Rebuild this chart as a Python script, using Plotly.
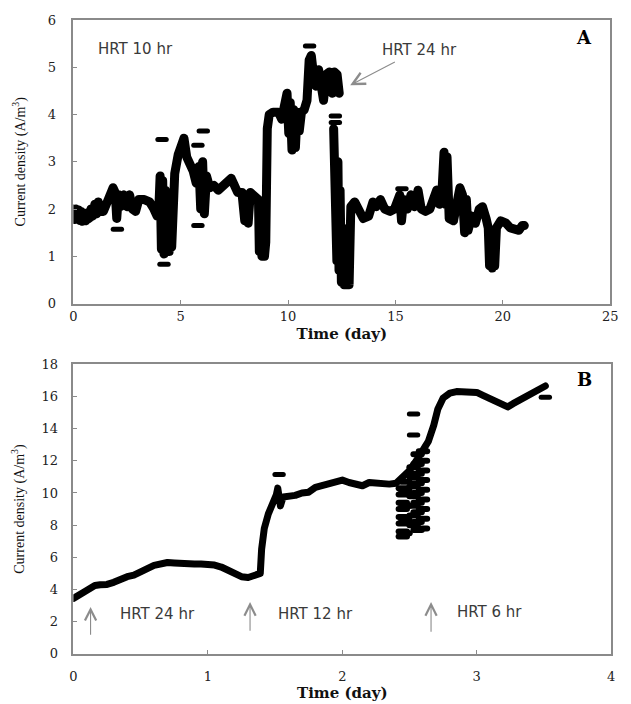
import plotly.graph_objects as go

# ---- Panel A: current density at HRT 10 hr then 24 hr ----
DAY_A = [0.00, 0.06, 0.12, 0.18, 0.24, 0.30, 0.36, 0.42, 0.50, 0.58, 0.66, 0.74, 0.82, 0.90,
         1.00, 1.08, 1.16, 1.25, 1.40, 1.55, 1.70,
         1.85, 1.95, 2.02, 2.10, 2.20, 2.35, 2.50, 2.62, 2.75, 2.90, 3.05, 3.30, 3.55, 3.75, 3.90,
         3.98, 4.04, 4.10, 4.16, 4.22, 4.28, 4.34, 4.40, 4.46, 4.52, 4.58, 4.64, 4.72, 4.88, 5.02,
         5.15, 5.28, 5.42, 5.58, 5.72, 5.85, 5.93, 6.02, 6.10, 6.20, 6.35, 6.55, 6.75, 6.95, 7.15,
         7.35, 7.50, 7.65, 7.85, 7.98, 8.06, 8.14, 8.24, 8.40, 8.55, 8.62, 8.66, 8.72, 8.78, 8.84,
         8.90, 8.96, 9.03, 9.12, 9.30, 9.55, 9.70, 9.85, 9.95, 10.03, 10.10, 10.18, 10.26, 10.34,
         10.42, 10.52, 10.62, 10.75, 10.88, 10.98, 11.08, 11.18, 11.30, 11.42, 11.52, 11.65, 11.78,
         11.92, 12.05, 12.15, 12.28, 12.38,
         None,
         12.12, 12.17, 12.22, 12.27, 12.32, 12.37, 12.42, 12.48, 12.54, 12.60, 12.66, 12.72, 12.78,
         12.84, 12.92, 13.10, 13.30, 13.50, 13.75, 13.95, 14.10, 14.30, 14.50, 14.75, 14.95, 15.10,
         15.20, 15.28, 15.38, 15.55, 15.72, 15.88, 16.05, 16.20, 16.40, 16.60, 16.78, 16.92, 17.05,
         17.18, 17.26, 17.32, 17.40, 17.50, 17.70, 17.85, 18.00, 18.12, 18.22, 18.30, 18.38, 18.55,
         18.72, 18.90, 19.05, 19.22, 19.32, 19.38, 19.44, 19.50, 19.56, 19.62, 19.70, 19.90, 20.15,
         20.35, 20.55, 20.75, 20.90, 21.00]
CUR_A = [2.00, 1.78, 2.00, 1.80, 1.98, 1.76, 1.95, 1.74, 1.90, 1.75, 1.92, 1.80, 2.00, 1.85,
         2.10, 1.90, 2.15, 1.95, 1.95, 2.10, 2.30,
         2.45, 2.35, 1.80, 2.30, 2.05, 2.30, 2.05, 2.30, 2.00, 1.95, 2.20, 2.20, 2.15, 2.00, 1.85,
         2.00, 2.70, 1.15, 2.60, 1.05, 2.40, 1.10, 2.20, 1.10, 2.00, 1.20, 2.30, 2.75, 3.15, 3.45,
         3.50, 3.10, 3.00, 2.80, 2.55, 2.90, 2.00, 3.00, 1.90, 2.70, 2.45, 2.50, 2.40, 2.50, 2.60,
         2.65, 2.50, 2.35, 2.35, 1.75, 2.30, 1.70, 2.35, 2.30, 2.25, 2.20, 1.10, 2.00, 1.00, 1.70,
         1.00, 1.30, 3.70, 4.00, 4.05, 4.05, 3.90, 4.40, 4.45, 3.60, 4.25, 3.25, 4.10, 3.30,
         4.05, 3.65, 4.05, 4.10, 4.30, 5.15, 5.25, 4.85, 4.60, 4.95, 4.50, 4.30, 4.85,
         4.90, 4.45, 4.90, 4.85, 4.45,
         None,
         3.70, 1.20, 3.50, 0.90, 3.00, 0.70, 2.40, 0.45, 1.60, 0.40, 1.30, 0.40, 1.10,
         0.40, 2.05, 2.15, 1.95, 1.80, 1.85, 2.15, 2.05, 2.20, 2.00, 1.95, 2.00, 2.20,
         2.30, 1.75, 2.20, 2.00, 2.30, 2.05, 2.40, 2.00, 1.95, 2.00, 2.20, 2.40, 2.10,
         2.50, 3.20, 2.10, 3.10, 1.80, 1.75, 2.25, 2.45, 2.30, 1.50, 2.20, 1.55, 1.85,
         1.70, 2.00, 2.05, 1.80, 1.60, 0.80, 1.50, 0.75, 1.40, 0.80, 1.60, 1.75, 1.70,
         1.60, 1.55, 1.55, 1.65, 1.65]
SPIKE_DAY_A = [2.05, 4.13, 4.22, 6.05, 5.80, 5.80, 11.00, 12.20, 12.20, 15.30]
SPIKE_CUR_A = [1.57, 3.47, 0.83, 3.65, 3.35, 1.65, 5.45, 3.97, 3.83, 2.43]

# ---- Panel B: current density at HRT 24, 12 and 6 hr ----
DAY_B = [0.00, 0.04, 0.08, 0.12, 0.16, 0.20, 0.25, 0.30, 0.35, 0.40, 0.45, 0.50, 0.55, 0.60, 0.65,
         0.70, 0.75, 0.80, 0.85, 0.90, 0.95, 1.00, 1.05, 1.10, 1.15, 1.20, 1.25, 1.30, 1.35, 1.39,
         1.40, 1.42, 1.45, 1.48, 1.51, 1.52, 1.54, 1.56, 1.60, 1.65, 1.70, 1.75, 1.80, 1.85, 1.90,
         1.95, 2.00, 2.05, 2.10, 2.15, 2.20, 2.25, 2.30, 2.35, 2.40, 2.44, 2.50, 2.55, 2.60, 2.64,
         2.68, 2.71, 2.75, 2.80, 2.85, 2.90, 2.95, 3.00, 3.05, 3.10, 3.15, 3.20, 3.23, 3.27, 3.32,
         3.37, 3.42, 3.47, 3.51]
CUR_B = [3.45, 3.60, 3.85, 4.05, 4.25, 4.30, 4.32, 4.45, 4.65, 4.80, 4.90, 5.05, 5.30, 5.50, 5.62,
         5.68, 5.65, 5.60, 5.55, 5.58, 5.58, 5.58, 5.52, 5.40, 5.20, 4.95, 4.80, 4.75, 4.85, 5.00,
         6.50, 7.80, 8.70, 9.20, 9.90, 10.30, 9.20, 9.75, 9.75, 9.85, 10.00, 10.05, 10.35, 10.45, 10.60,
         10.75, 10.80, 10.65, 10.50, 10.45, 10.65, 10.60, 10.65, 10.55, 10.60, 10.95, 11.40, 12.00, 12.60, 13.20,
         14.20, 15.20, 15.90, 16.20, 16.30, 16.28, 16.30, 16.25, 16.05, 15.85, 15.60, 15.40, 15.35, 15.55, 15.80,
         16.00, 16.25, 16.50, 16.65]
# scattered readings while switching to HRT 6 hr
BAND_DAY_B = [2.45] * 8 + [2.47] * 5 + [2.53] * 7 + [2.56] * 9 + [2.60] * 9
BAND_CUR_B = [7.30, 7.60, 8.10, 8.50, 9.00, 9.40, 9.90, 10.30,
              7.50, 8.30, 9.20, 10.10, 10.70,
              8.00, 8.60, 9.20, 9.80, 10.40, 11.00, 11.60,
              7.70, 8.20, 8.80, 9.40, 10.00, 10.60, 11.20, 11.80, 12.40,
              7.80, 8.40, 9.00, 9.60, 10.20, 10.80, 11.40, 12.00, 12.60]
SPIKE_DAY_B = [1.53, 2.53, 2.53, 3.51]
SPIKE_CUR_B = [11.15, 14.90, 13.60, 15.95]

TICKS_A_X = [0, 5, 10, 15, 20, 25]
TICKS_A_Y = [0, 1, 2, 3, 4, 5, 6]
TICKS_B_X = [0, 1, 2, 3, 4]
TICKS_B_Y = [0, 2, 4, 6, 8, 10, 12, 14, 16, 18]

W, H = 631, 704
SERIF = "DejaVu Serif"
SANS = "DejaVu Sans"
FRAME = "#8a8a8a"
ARROW = "#8c8c8c"


def px(x):
    return x / W


def py(y):
    return 1 - y / H


dot = dict(symbol="line-ew", size=6, line=dict(width=5, color="black"), color="black")

fig = go.Figure()
fig.add_trace(go.Scatter(x=DAY_A, y=CUR_A, mode="lines", line=dict(color="black", width=9),
                         xaxis="x", yaxis="y", connectgaps=False))
fig.add_trace(go.Scatter(x=SPIKE_DAY_A, y=SPIKE_CUR_A, mode="markers", marker=dot,
                         xaxis="x", yaxis="y"))
fig.add_trace(go.Scatter(x=DAY_B, y=CUR_B, mode="lines", line=dict(color="black", width=7),
                         xaxis="x2", yaxis="y2"))
fig.add_trace(go.Scatter(x=BAND_DAY_B, y=BAND_CUR_B, mode="markers",
                         marker=dict(symbol="line-ew", size=6, line=dict(width=6, color="black")),
                         xaxis="x2", yaxis="y2"))
fig.add_trace(go.Scatter(x=SPIKE_DAY_B, y=SPIKE_CUR_B, mode="markers", marker=dot,
                         xaxis="x2", yaxis="y2"))

tickfont = dict(family=SERIF, size=13, color="#222")
axis_common = dict(showline=True, linecolor=FRAME, linewidth=1.5, mirror=True, ticks="inside",
                   ticklen=4, tickcolor=FRAME, tickwidth=1, showgrid=False, zeroline=False,
                   tickfont=tickfont, fixedrange=True)
xfont = dict(family=SERIF, size=15, color="#111")
yfont = dict(family="Liberation Serif", size=14, color="#111")
ylabel = "Current density (A/m<sup>3</sup>)"

fig.update_layout(
    width=W, height=H, margin=dict(l=0, r=0, t=0, b=0),
    paper_bgcolor="white", plot_bgcolor="white", showlegend=False,
    xaxis=dict(domain=[px(70.7), px(618)], range=[0, 25], tickvals=TICKS_A_X, anchor="y",
               title=dict(text="<b>Time (day)</b>", font=xfont, standoff=6),
               ticklabelstandoff=0, **axis_common),
    yaxis=dict(domain=[py(303), py(13.3)], range=[0, 6], tickvals=TICKS_A_Y, anchor="x",
               title=dict(text=ylabel, font=yfont, standoff=19),
               ticklabelstandoff=13, **axis_common),
    xaxis2=dict(domain=[px(70.7), px(619)], range=[0, 4], tickvals=TICKS_B_X, anchor="y2",
                title=dict(text="<b>Time (day)</b>", font=xfont, standoff=3),
                ticklabelstandoff=10, **axis_common),
    yaxis2=dict(domain=[py(661), py(365)], range=[0, 18], tickvals=TICKS_B_Y, anchor="x2",
                title=dict(text=ylabel, font=yfont, standoff=14),
                ticklabelstandoff=11, **axis_common),
)

label_font = dict(family=SANS, size=15, color="#3a3a3a")
panel_font = dict(family=SERIF, size=18, color="black")
notes = [
    dict(text="<b>A</b>", x=px(591), y=py(31), font=panel_font),
    dict(text="<b>B</b>", x=px(592), y=py(381), font=panel_font),
    dict(text="HRT 10 hr", x=px(134), y=py(43), font=label_font),
    dict(text="HRT 24 hr", x=px(424), y=py(44), font=label_font),
    dict(text="HRT 24 hr", x=px(156), y=py(620), font=label_font),
    dict(text="HRT 12 hr", x=px(317.5), y=py(620), font=label_font),
    dict(text="HRT 6 hr", x=px(495), y=py(618), font=label_font),
]
for n in notes:
    fig.add_annotation(xref="paper", yref="paper", showarrow=False, xanchor="center",
                       yanchor="middle", **n)

# arrows: (tip x, tip y, tail x, tail y, axis suffix, head size)
arrows = [
    (12.89, 4.62, 15.04, 5.13, "", 2.2),
    (0.128, 2.92, 0.128, 1.09, "2", 2.0),
    (1.314, 3.22, 1.314, 1.34, "2", 2.0),
    (2.66, 3.22, 2.66, 1.28, "2", 2.0),
]
for tx, ty, ax, ay, s, hs in arrows:
    fig.add_annotation(x=tx, y=ty, ax=ax, ay=ay, xref="x" + s, yref="y" + s,
                       axref="x" + s, ayref="y" + s, text="", showarrow=True,
                       arrowhead=5, arrowsize=hs, arrowwidth=1.1, arrowcolor=ARROW)

post = """
function roundStrokes(){
  var gd = document.getElementById('{plot_id}');
  gd.querySelectorAll('.scatterlayer .js-line').forEach(function(p){
    p.style.strokeLinejoin = 'round'; p.style.strokeLinecap = 'round';
  });
  gd.querySelectorAll('.scatterlayer .point').forEach(function(p){
    p.style.strokeLinecap = 'round';
  });
}
roundStrokes();
document.getElementById('{plot_id}').on('plotly_afterplot', roundStrokes);
"""

fig.write_html("out.html", post_script=post)
